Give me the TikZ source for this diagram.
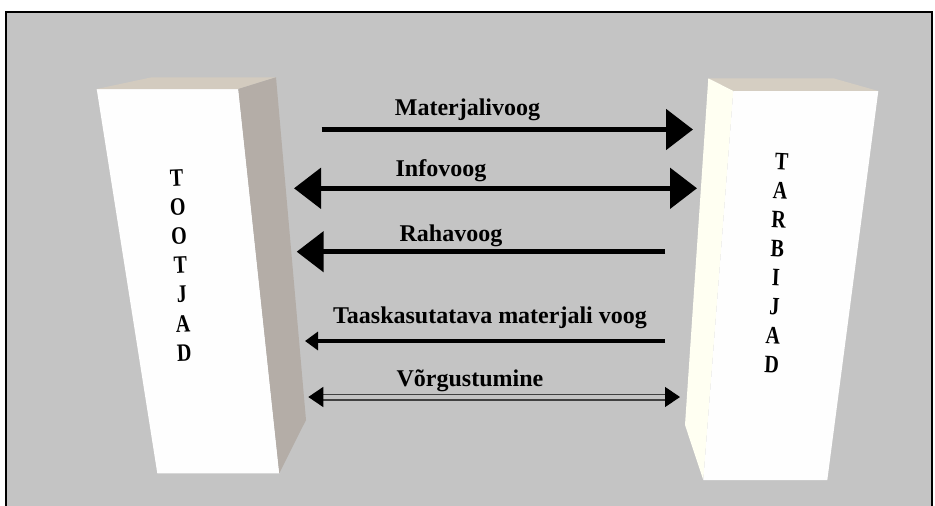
\documentclass[tikz,border=0pt]{standalone}
\usepackage{graphicx}
\usepackage{fontspec}
\setmainfont{Liberation Serif}
\usetikzlibrary{arrows.meta}

\definecolor{panel}{HTML}{C4C4C4}
\definecolor{lefttop}{HTML}{D3CBBF}
\definecolor{leftside}{HTML}{B4ADA7}
\definecolor{righttop}{HTML}{D5CEC2}
\definecolor{rightside}{HTML}{FFFFF2}
\definecolor{face}{HTML}{FEFEFE}

% tall, narrow letters stacked one per line
\newcommand\pillartext[1]{\scalebox{1}[1.25]{\fontsize{20}{23.3}\selectfont\bfseries
  \begin{tabular}{@{}c@{}}#1\end{tabular}}}

\begin{document}
\begin{tikzpicture}[x=1pt,y=-1pt,
  flowtip/.tip={Triangle[length=27pt,width=40pt]},
  thintip/.tip={Triangle[length=13pt,width=18pt]},
  nettip/.tip={Triangle[length=15pt,width=20pt,color=black]},
  heavyflow/.style={line width=5.3pt, draw=black},
  lightflow/.style={line width=3.4pt, draw=black},
  netflow/.style={line width=1.3pt, draw=black!75, double=panel, double distance=4.4pt},
  flowlabel/.style={font=\fontsize{24}{28}\selectfont\bfseries, inner sep=0pt, anchor=base},
  pillar/.style={inner sep=0pt}
]
\useasboundingbox (0,0) rectangle (935,506);

% frame and backdrop
\fill[white] (0,0) rectangle (935,506);
\fill[panel] (6,12) rectangle (932,510);
\draw[line width=2pt] (6,510) -- (6,12) -- (932,12) -- (932,510);

% producers block
\fill[face]     (96.7,89) -- (238.3,89) -- (279.3,473.3) -- (157.3,473.3) -- cycle;
\fill[lefttop]  (96.7,89) -- (151.7,77.3) -- (276,77.3) -- (238.3,89) -- cycle;
\fill[leftside] (238.3,89) -- (276,77.3) -- (306,420) -- (279.3,473.3) -- cycle;
\node[pillar, rotate=2.5] (producers) at (180.5,267.7) {\pillartext{T\\O\\O\\T\\J\\A\\D}};

% consumers block
\fill[righttop]  (708.3,78.3) -- (833.3,78.3) -- (878.3,91) -- (733.3,91) -- cycle;
\fill[rightside] (708.3,78.3) -- (733.3,91) -- (703.3,480) -- (685,425) -- cycle;
\fill[face]      (733.3,91) -- (878.3,91) -- (827.3,480) -- (703.3,480) -- cycle;
\node[pillar, rotate=-2.8] (consumers) at (776.5,265.5) {\pillartext{T\\A\\R\\B\\I\\J\\A\\D}};

% flow end points
\coordinate (mat-s) at (321.7,129.5);
\coordinate (mat-e) at (693,129.5);
\coordinate (info-s) at (294,188.3);
\coordinate (info-e) at (697,188.3);
\coordinate (raha-s) at (665,251.7);
\coordinate (raha-e) at (296.7,251.7);
\coordinate (taas-s) at (665,341);
\coordinate (taas-e) at (305,341);
\coordinate (vork-s) at (308.3,397);
\coordinate (vork-e) at (680,397);

% flows
\draw[heavyflow, -flowtip] (mat-s) -- (mat-e);
\draw[heavyflow, flowtip-flowtip] (info-s) -- (info-e);
\draw[heavyflow, -flowtip] (raha-s) -- (raha-e);
\draw[lightflow, -thintip] (taas-s) -- (taas-e);
\draw[netflow, nettip-nettip] (vork-s) -- (vork-e);

% flow labels
\node[flowlabel] (lbl-mat)  at (467.5,115)   {Materjalivoog};
\node[flowlabel] (lbl-info) at (441,176.7)   {Infovoog};
\node[flowlabel] (lbl-raha) at (451,241.7)   {Rahavoog};
\node[flowlabel] (lbl-taas) at (490,323.3)   {Taaskasutatava materjali voog};
\node[flowlabel] (lbl-vork) at (470,386.7)   {Võrgustumine};
\end{tikzpicture}
\end{document}
